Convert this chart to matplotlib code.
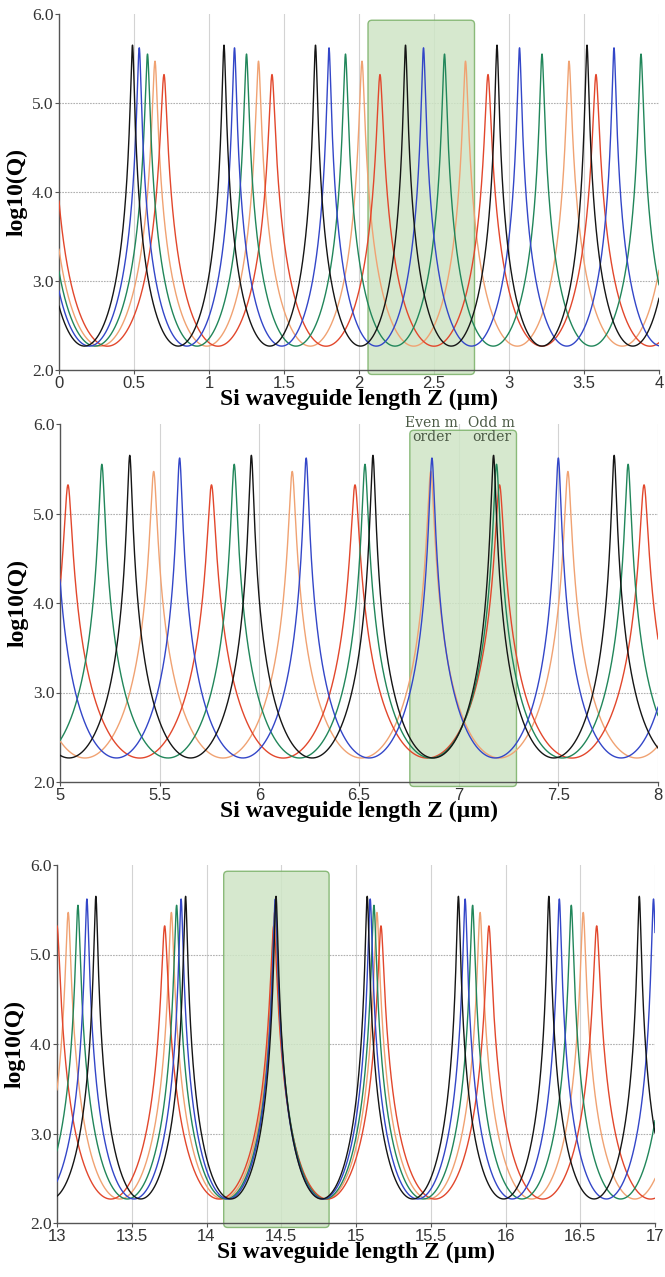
import numpy as np
import matplotlib.pyplot as plt
from matplotlib.patches import FancyBboxPatch

# peak positions (Z, um), one peak beyond each edge included
p1_black = [-0.15, 0.49, 1.10, 1.71, 2.31, 2.92, 3.52, 4.13]
p1_blue = [-0.13, 0.535, 1.17, 1.80, 2.43, 3.07, 3.70, 4.33]
p1_green = [-0.11, 0.59, 1.25, 1.91, 2.57, 3.22, 3.88, 4.54]
p1_orange = [-0.09, 0.64, 1.33, 2.02, 2.71, 3.40, 4.11]
p1_red = [-0.055, 0.70, 1.42, 2.14, 2.86, 3.58, 4.30]

p2_black = [4.74, 5.35, 5.96, 6.57, 7.175, 7.78, 8.39]
p2_blue = [4.967, 5.60, 6.235, 6.866, 7.50, 8.13]
p2_green = [4.55, 5.21, 5.874, 6.53, 7.19, 7.85, 8.51]
p2_orange = [4.78, 5.47, 6.165, 6.86, 7.548, 8.24]
p2_red = [4.32, 5.04, 5.76, 6.48, 7.205, 7.93, 8.65]

p3_black = [12.65, 13.26, 13.86, 14.465, 15.075, 15.685, 16.29, 16.895, 17.50]
p3_blue = [12.57, 13.20, 13.83, 14.46, 15.095, 15.73, 16.36, 16.99, 17.62]
p3_green = [12.48, 13.14, 13.80, 14.46, 15.12, 15.78, 16.44, 17.10]
p3_orange = [12.385, 13.075, 13.765, 14.455, 15.14, 15.83, 16.52, 17.21]
p3_red = [12.28, 13.00, 13.72, 14.45, 15.167, 15.889, 16.61, 17.33]

# peak height and valley level of log10(Q) per series
series_names = ['orange', 'red', 'green', 'blue', 'black']
peak_top = {'black': 5.65, 'blue': 5.62, 'green': 5.55, 'orange': 5.47, 'red': 5.32}
valley = 2.27
colors = {'black': '#151515', 'blue': '#3346c8', 'green': '#21865a',
          'orange': '#f0a272', 'red': '#e2472c'}

panels = [
    dict(xlim=(0, 4), xticks=[0, 0.5, 1, 1.5, 2, 2.5, 3, 3.5, 4],
         xticklabels=['0', '0.5', '1', '1.5', '2', '2.5', '3', '3.5', '4'],
         peaks=dict(black=p1_black, blue=p1_blue, green=p1_green, orange=p1_orange, red=p1_red),
         box=(2.06, 2.77), rect=[59, 14, 659, 370]),
    dict(xlim=(5, 8), xticks=[5, 5.5, 6, 6.5, 7, 7.5, 8],
         xticklabels=['5', '5.5', '6', '6.5', '7', '7.5', '8'],
         peaks=dict(black=p2_black, blue=p2_blue, green=p2_green, orange=p2_orange, red=p2_red),
         box=(6.755, 7.29), rect=[60, 424, 658, 782]),
    dict(xlim=(13, 17), xticks=[13, 13.5, 14, 14.5, 15, 15.5, 16, 16.5, 17],
         xticklabels=['13', '13.5', '14', '14.5', '15', '15.5', '16', '16.5', '17'],
         peaks=dict(black=p3_black, blue=p3_blue, green=p3_green, orange=p3_orange, red=p3_red),
         box=(14.115, 14.82), rect=[57, 865, 655, 1223]),
]

W, H = 665, 1277
sharp = 1.3


def resonance(z, peaks, top):
    peaks = np.asarray(peaks)
    eps = 10 ** (-(top - valley) / sharp)
    i = np.clip(np.searchsorted(peaks, z), 1, len(peaks) - 1)
    a, b = peaks[i - 1], peaks[i]
    t = (z - a) / (b - a)
    return valley - sharp * np.log10(np.sin(np.pi * t) ** 2 + eps)


fig = plt.figure(figsize=(W / 100, H / 100), dpi=100)

for pnl in panels:
    l, t, r, b = pnl['rect']
    ax = fig.add_axes([l / W, 1 - b / H, (r - l) / W, (b - t) / H])
    x0, x1 = pnl['xlim']
    z = np.linspace(x0, x1, 6000)
    # make sure peak tops are sampled
    allp = np.concatenate([np.asarray(v) for v in pnl['peaks'].values()])
    z = np.unique(np.concatenate([z, allp[(allp >= x0) & (allp <= x1)]]))
    for nm in series_names:
        ax.plot(z, resonance(z, pnl['peaks'][nm], peak_top[nm]),
                color=colors[nm], lw=1.0, zorder=3)

    bx0, bx1 = pnl['box']
    xpp = (x1 - x0) / (r - l)
    ypp = 4.0 / (b - t)
    box = FancyBboxPatch((bx0, 1.95), bx1 - bx0, 3.98,
                         boxstyle='round,pad=0,rounding_size=%f' % (4 * xpp),
                         mutation_aspect=ypp / xpp,
                         facecolor='#cfe5c6', edgecolor='#79b066', lw=1.0,
                         alpha=0.85, zorder=2, clip_on=False)
    ax.add_patch(box)

    ax.set_xlim(x0, x1)
    ax.set_ylim(2.0, 6.0)
    ax.set_xticks(pnl['xticks'])
    ax.set_xticklabels(pnl['xticklabels'], family='Liberation Sans', fontsize=12, color='#333333')
    ax.set_yticks([2, 3, 4, 5, 6])
    ax.set_yticklabels(['2.0', '3.0', '4.0', '5.0', '6.0'], family='Liberation Serif',
                       fontsize=12.5, color='#333333')
    ax.tick_params(axis='both', length=3, width=0.8, color='#555555', pad=1)
    for xv in pnl['xticks'][1:]:
        ax.axvline(xv, color='#d3d3d3', lw=0.8, zorder=1)
    for yv in [3, 4, 5]:
        ax.axhline(yv, color='#b0b0b0', lw=0.8, ls=(0, (1.5, 1)), zorder=1)
    for s in ['top', 'right']:
        ax.spines[s].set_visible(False)
    for s in ['left', 'bottom']:
        ax.spines[s].set_color('#555555')
        ax.spines[s].set_linewidth(1.0)
    ax.set_ylabel('log10(Q)', family='Liberation Serif', fontweight='bold', fontsize=17, labelpad=3)
    ax.set_xlabel('Si waveguide length Z (\u00b5m)', family='Liberation Serif',
                  fontweight='bold', fontsize=17, labelpad=-1)

    if x0 == 5:
        ax.text(6.865, 5.93, 'Even m\norder', ha='center', va='center', family='DejaVu Serif',
                fontsize=10, color='#4b5a45', linespacing=1.0, zorder=5)
        ax.text(7.165, 5.93, 'Odd m\norder', ha='center', va='center', family='DejaVu Serif',
                fontsize=10, color='#4b5a45', linespacing=1.0, zorder=5)

plt.savefig('out.png', dpi=100)
